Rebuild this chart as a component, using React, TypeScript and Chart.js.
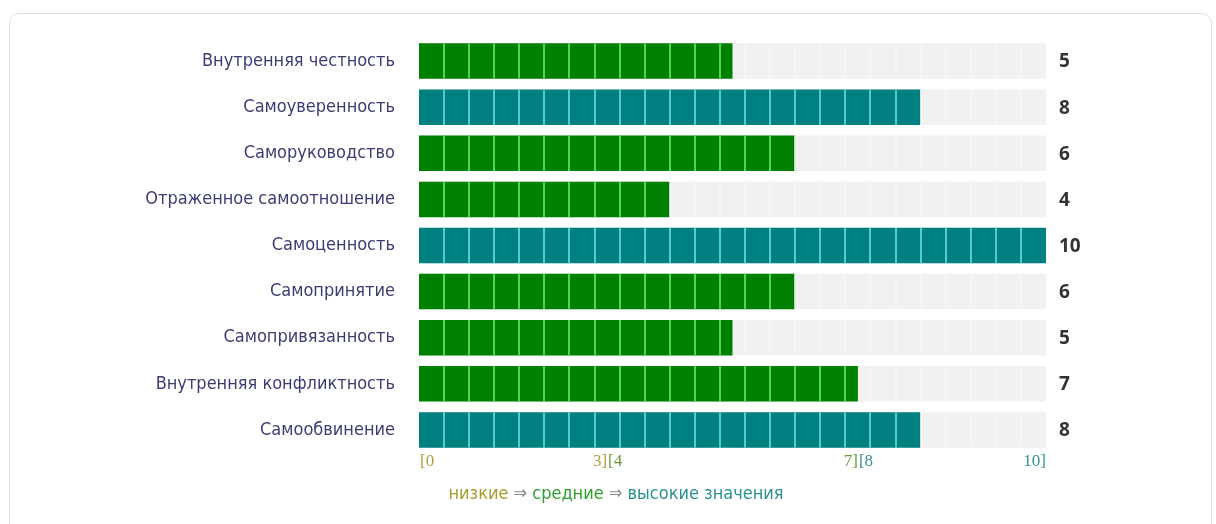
import React, { useEffect, useRef } from 'react';
import { Chart, registerables } from 'chart.js';
Chart.register(...registerables);

const categories = [
  'Внутренняя честность',
  'Самоуверенность',
  'Саморуководство',
  'Отраженное самоотношение',
  'Самоценность',
  'Самопринятие',
  'Самопривязанность',
  'Внутренняя конфликтность',
  'Самообвинение',
];
const values = [5, 8, 6, 4, 10, 6, 5, 7, 8];
const scaleMax = 10;
const cellSize = 0.4;
const tickPositions = [0, 3, 3, 7, 7, 10];
const tickTexts = ['[0', '3]', '[4', '7]', '[8', '10]'];
const tickAligns = ['left', 'right', 'left', 'right', 'left', 'right'];
const tickLevels = [0, 0, 1, 1, 2, 2];
const levelNames = ['низкие', 'средние', 'высокие значения'];
const levelTextColors = ['#a89c2c', '#2f9f2f', '#2b9090'];
const tickTextColors = ['#b0a040', '#6a9a3a', '#3a9090'];
const levelBarColors = ['#808000', '#008000', '#008080'];
const levelCellLines = ['#c8c850', '#52d452', '#55cccc'];

const levelOf = (v: number) => (v >= 8 ? 2 : v >= 4 ? 1 : 0);

const decorPlugin = {
  id: 'decor',
  afterDatasetsDraw(chart: any) {
    const ctx = chart.ctx;
    const xs = chart.scales.x;
    const meta = chart.getDatasetMeta(0);
    ctx.save();
    meta.data.forEach((bar: any, i: number) => {
      const { y, height } = bar.getProps(['y', 'height'], true);
      const top = y - height / 2;
      const lvl = levelOf(values[i]);
      for (let k = 1; k * cellSize < scaleMax - 1e-9; k++) {
        const v = k * cellSize;
        const px = Math.round(xs.getPixelForValue(v));
        const inBar = v < values[i] - 1e-9;
        ctx.strokeStyle = inBar ? levelCellLines[lvl] : '#f6f6f6';
        ctx.lineWidth = inBar ? 2 : 1.5;
        ctx.beginPath();
        ctx.moveTo(px, top);
        ctx.lineTo(px, top + height);
        ctx.stroke();
      }
      ctx.fillStyle = '#333333';
      ctx.font = 'bold 19px "Open Sans"';
      ctx.textAlign = 'left';
      ctx.textBaseline = 'middle';
      ctx.fillText(String(values[i]), xs.right + 13, y + 1);
    });

    // range tick labels
    const area = chart.chartArea;
    ctx.font = '17px "Liberation Serif"';
    ctx.textBaseline = 'middle';
    tickPositions.forEach((v, j) => {
      const px = xs.getPixelForValue(v);
      ctx.fillStyle = tickTextColors[tickLevels[j]];
      ctx.textAlign = tickAligns[j] as CanvasTextAlign;
      const off = tickAligns[j] === 'left' ? 1 : 0;
      ctx.fillText(tickTexts[j], px + off, area.bottom + 9);
    });

    // legend line
    ctx.font = '18px "DejaVu Sans Condensed"';
    ctx.textAlign = 'left';
    const arrow = ' ⇒ ';
    const parts: { t: string; c: string }[] = [];
    levelNames.forEach((n, j) => {
      parts.push({ t: n, c: levelTextColors[j] });
      if (j < levelNames.length - 1) parts.push({ t: arrow, c: '#8a8a8a' });
    });
    const total = parts.reduce((s, p) => s + ctx.measureText(p.t).width, 0);
    let x = 616 - total / 2;
    const ly = area.bottom + 41;
    parts.forEach((p) => {
      ctx.fillStyle = p.c;
      ctx.fillText(p.t, x, ly);
      x += ctx.measureText(p.t).width;
    });
    ctx.restore();
  },
};

export default function App() {
  const ref = useRef<HTMLCanvasElement>(null);
  useEffect(() => {
    if (!ref.current) return;
    const chart = new Chart(ref.current, {
      type: 'bar',
      data: {
        labels: categories,
        datasets: [
          {
            data: values,
            backgroundColor: values.map((v) => levelBarColors[levelOf(v)]),
            grouped: false,
            categoryPercentage: 1,
            barPercentage: 0.77,
          } as any,
          {
            data: categories.map(() => scaleMax),
            backgroundColor: '#f1f1f1',
            grouped: false,
            categoryPercentage: 1,
            barPercentage: 0.77,
          } as any,
        ],
      },
      options: {
        indexAxis: 'y',
        responsive: false,
        animation: false,
        devicePixelRatio: 1,
        layout: { padding: { left: 0, right: 170, top: 38, bottom: 71 } },
        plugins: { legend: { display: false }, tooltip: { enabled: false } },
        scales: {
          x: { display: false, min: 0, max: scaleMax },
          y: {
            grid: { display: false, drawTicks: false },
            border: { display: false },
            ticks: {
              color: '#3c3c74',
              font: { family: '"DejaVu Sans Condensed"', size: 18 },
              padding: 24,
            },
            afterFit: (axis: any) => {
              axis.width = 419;
            },
          } as any,
        },
      },
      plugins: [decorPlugin],
    });
    return () => chart.destroy();
  }, []);
  return (
    <div style={{ position: 'fixed', left: 0, top: 0, width: 1216, height: 524, background: '#fff' }}>
      <div
        style={{
          position: 'absolute',
          left: 9,
          top: 13,
          width: 1203,
          height: 540,
          border: '1px solid #dedede',
          borderRadius: 10,
          boxSizing: 'border-box',
        }}
      />
      <canvas ref={ref} width={1216} height={524} style={{ position: 'absolute', left: 0, top: 0 }} />
    </div>
  );
}
